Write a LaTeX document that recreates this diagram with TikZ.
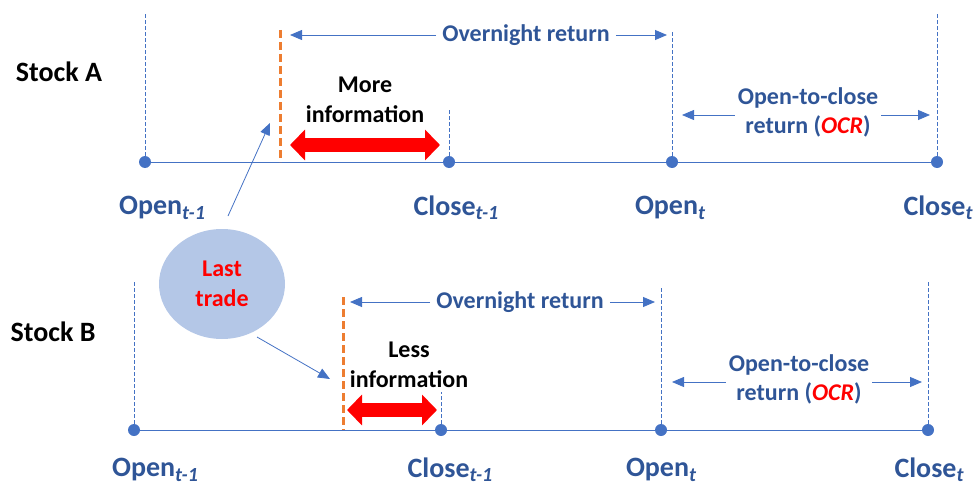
\documentclass[tikz,border=0pt]{standalone}
\usepackage{fontspec}
\setmainfont{Carlito}
\usetikzlibrary{arrows.meta,shapes.geometric}
\definecolor{lineblue}{HTML}{4472C4}
\definecolor{textblue}{HTML}{2F5597}
\definecolor{tradeorange}{HTML}{ED7D31}
\definecolor{ellblue}{HTML}{B4C7E7}
\newcommand\tidx[1]{\raisebox{-0.3ex}{\fontsize{20}{20}\selectfont\itshape #1}}

\begin{document}
\begin{tikzpicture}[x=1pt,y=-1pt,
    stock/.style ={font=\bfseries\fontsize{28}{30}\selectfont},
    dot/.style ={circle, fill=lineblue, inner sep=0pt, minimum size=12pt},
    timeline/.style ={lineblue, line width=1pt},
    guide/.style ={lineblue, line width=0.9pt, dash pattern=on 4pt off 2pt},
    lasttrade/.style ={tradeorange, line width=3pt, dash pattern=on 8pt off 4pt},
    time/.style ={text=textblue, font=\bfseries\fontsize{28}{30}\selectfont},
    ret/.style ={text=textblue, font=\bfseries\fontsize{24}{29}\selectfont, align=center, inner sep=6pt},
    retarrow/.style ={lineblue, line width=0.8pt, -{Triangle[length=12pt,width=10pt]}},
    info/.style ={font=\bfseries\fontsize{24}{30}\selectfont, align=center},
    infoarrow/.style ={red, line width=14pt, {Triangle[length=15pt,width=30pt]}-{Triangle[length=15pt,width=30pt]}}]
   \useasboundingbox (0,0) rectangle (974,487);

   \node[stock] (stockA) at (59,72) {Stock A};
   \coordinate (gA1) at (145,12);
   \coordinate (gA2) at (449,110);
   \coordinate (gA3) at (672,30);
   \coordinate (gA4) at (937,12);
   \coordinate (ltA) at (280,30);
   \coordinate (ltAb) at (280,162);
   \draw[timeline] (145,162) coordinate (lA) -- (937,162) coordinate (rA);
   \node[dot] (oA1) at (145,162) {};
   \node[dot] (cA1) at (449,162) {};
   \node[dot] (oA2) at (672,162) {};
   \node[dot] (cA2) at (937,162) {};
   \draw[guide] (oA1) -- (gA1);
   \draw[guide] (cA1) -- (gA2);
   \draw[guide] (oA2) -- (gA3);
   \draw[guide] (cA2) -- (gA4);
   \draw[lasttrade] (ltA) -- (ltAb);
   \node[ret] (ovA) at (526,35) {Overnight return};
   \draw[retarrow] (ovA.west) -- ([xshift=10]ovA -| ltA);
   \draw[retarrow] (ovA.east) -- ([xshift=-5]ovA -| oA2);
   \node[ret, inner sep=3pt] (ocA) at (808,112) {Open-to-close\\return (\textcolor{red}{\itshape OCR})};
   \draw[retarrow] ([yshift=-3]ocA.west) -- ([xshift=10,yshift=-3]ocA.west -| oA2);
   \draw[retarrow] ([yshift=-3]ocA.east) -- ([xshift=-7,yshift=-3]ocA.east -| cA2);
   \node[info] (moreA) at (365,100) {More\\information};
   \coordinate (iAl) at (290,145);
   \coordinate (iAr) at (440,145);
   \draw[infoarrow] (iAl) -- (iAr);
   \node[time] (tA1) at (162,208) {Open\tidx{t-1}};
   \node[time] (tA2) at (456,208) {Close\tidx{t-1}};
   \node[time] (tA3) at (670,208) {Open\tidx{t}};
   \node[time] (tA4) at (938,208) {Close\tidx{t}};

   \node[stock] (stockB) at (53,332) {Stock B};
   \coordinate (gB1) at (134,280);
   \coordinate (gB2) at (441,392);
   \coordinate (gB3) at (661,288);
   \coordinate (gB4) at (928,280);
   \coordinate (ltB) at (343,297);
   \coordinate (ltBb) at (343,430);
   \draw[timeline] (134,430) coordinate (lB) -- (928,430) coordinate (rB);
   \node[dot] (oB1) at (134,430) {};
   \node[dot] (cB1) at (441,430) {};
   \node[dot] (oB2) at (661,430) {};
   \node[dot] (cB2) at (928,430) {};
   \draw[guide] (oB1) -- (gB1);
   \draw[guide] (cB1) -- (gB2);
   \draw[guide] (oB2) -- (gB3);
   \draw[guide] (cB2) -- (gB4);
   \draw[lasttrade] (ltB) -- (ltBb);
   \node[ret] (ovB) at (520,302) {Overnight return};
   \draw[retarrow] (ovB.west) -- ([xshift=7]ovB -| ltB);
   \draw[retarrow] (ovB.east) -- ([xshift=-6]ovB -| oB2);
   \node[ret, inner sep=3pt] (ocB) at (799,379) {Open-to-close\\return (\textcolor{red}{\itshape OCR})};
   \draw[retarrow] ([yshift=-3]ocB.west) -- ([xshift=11,yshift=-3]ocB.west -| oB2);
   \draw[retarrow] ([yshift=-3]ocB.east) -- ([xshift=-6,yshift=-3]ocB.east -| cB2);
   \node[info] (lessB) at (409,365) {Less\\information};
   \coordinate (iBl) at (347,410);
   \coordinate (iBr) at (437,410);
   \draw[infoarrow] (iBl) -- (iBr);
   \node[time] (tB1) at (155,470) {Open\tidx{t-1}};
   \node[time] (tB2) at (450,470) {Close\tidx{t-1}};
   \node[time] (tB3) at (661,470) {Open\tidx{t}};
   \node[time] (tB4) at (929,470) {Close\tidx{t}};

   \node[ellipse, fill=ellblue, minimum width=126, minimum height=110, text=red,
         font=\bfseries\fontsize{24}{30}\selectfont, align=center] (last) at (222,284) {Last\\trade};
   \coordinate (fromA) at (228,216);
   \coordinate (toA) at (270,123);
   \coordinate (fromB) at (257,337);
   \coordinate (toB) at (330,379);
   \draw[retarrow] (fromA) -- (toA);
   \draw[retarrow] (fromB) -- (toB);
 \end{tikzpicture}
\end{document}
